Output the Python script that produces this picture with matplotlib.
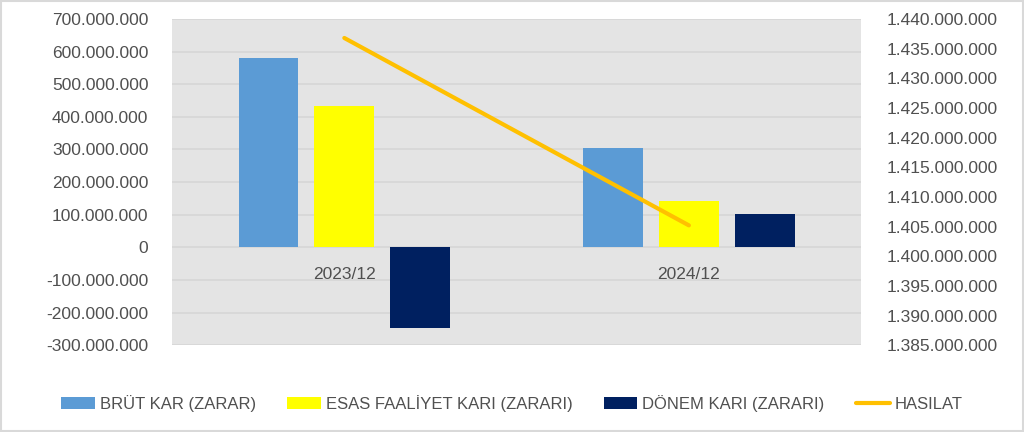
import matplotlib.pyplot as plt
import matplotlib.ticker as mticker
import numpy as np

# ---- data ----
periods = ["2023/12", "2024/12"]
brut_kar = [581_000_000, 304_000_000]
esas_faaliyet = [433_000_000, 143_000_000]
donem_kari = [-248_000_000, 101_000_000]
hasilat = [1_436_800_000, 1_405_200_000]

bar_series = [
    ("BRÜT KAR (ZARAR)", brut_kar, "#5B9BD5"),
    ("ESAS FAALİYET KARI (ZARARI)", esas_faaliyet, "#FFFF00"),
    ("DÖNEM KARI (ZARARI)", donem_kari, "#002060"),
]

plt.rcParams['font.family'] = ['Liberation Sans', 'DejaVu Sans']
text_col = "#505050"


def dot_fmt(v, pos):
    return f"{v:,.0f}".replace(",", ".")


fig = plt.figure(figsize=(10.24, 4.32), dpi=100)
ax = fig.add_axes([0.168, 0.201, 0.673, 0.755])
ax2 = ax.twinx()

x = np.arange(len(periods))
width = 0.174
step = 0.22

ax.set_facecolor("#E4E4E4")
ax.set_zorder(1)
ax2.set_zorder(2)
ax2.patch.set_visible(False)

handles = []
for i, (name, vals, col) in enumerate(bar_series):
    b = ax.bar(x + (i - 1) * step, vals, width, color=col, label=name, zorder=3)
    handles.append(b)

ln, = ax2.plot(x, hasilat, color="#FFC000", lw=3, label="HASILAT", solid_capstyle="round")
handles.append(ln)

ax.set_xlim(-0.5, 1.5)
ax.set_ylim(-300_000_000, 700_000_000)
ax.yaxis.set_major_locator(mticker.MultipleLocator(100_000_000))
ax.yaxis.set_major_formatter(mticker.FuncFormatter(dot_fmt))
ax.grid(axis="y", color="#D6D6D6", lw=1.2, zorder=0)
ax.set_axisbelow(True)

ax2.set_ylim(1_385_000_000, 1_440_000_000)
ax2.yaxis.set_major_locator(mticker.MultipleLocator(5_000_000))
ax2.yaxis.set_major_formatter(mticker.FuncFormatter(dot_fmt))

# category labels sit just under the zero line, as in the original
ax.set_xticks([])
for xi, p in zip(x, periods):
    ax.annotate(p, (xi, 0), xytext=(0, -27), textcoords="offset pixels",
                ha="center", va="center", fontsize=12.5, color=text_col, zorder=4)

for a in (ax, ax2):
    for s in a.spines.values():
        s.set_visible(False)
    a.tick_params(axis="both", length=0, labelsize=12.5, labelcolor=text_col)
ax.tick_params(axis="y", pad=17)
ax2.tick_params(axis="y", pad=18)

fig.legend(handles=handles, labels=[h.get_label() for h in handles],
           loc="center", bbox_to_anchor=(0.5, 0.067), ncol=4, frameon=False,
           fontsize=12, labelcolor=text_col, handlelength=2.0, handletextpad=0.3,
           columnspacing=1.9)

# light border around the whole chart
fig.patches.append(plt.Rectangle((0.001, 0.002), 0.998, 0.996, transform=fig.transFigure,
                                 fill=False, edgecolor="#D9D9D9", lw=1.5))

fig.savefig("out.png", dpi=100)
